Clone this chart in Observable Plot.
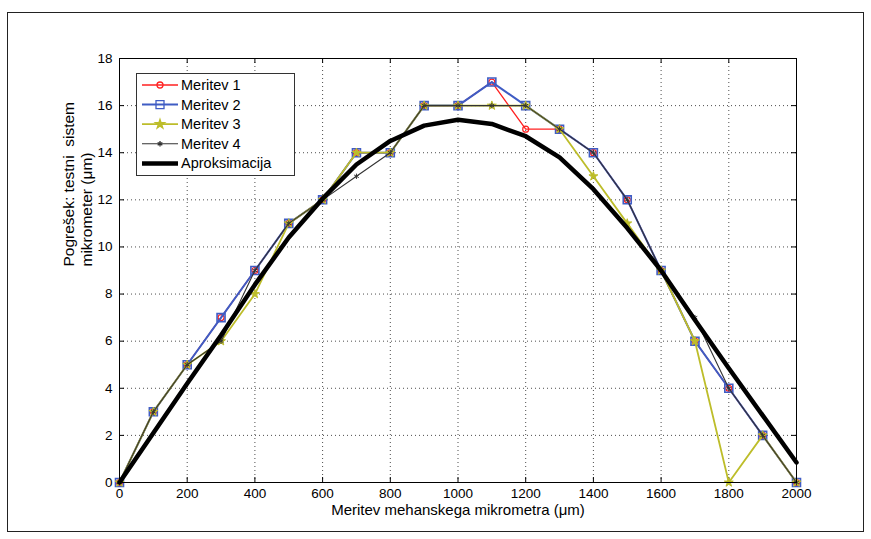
<!DOCTYPE html>
<html><head><meta charset="utf-8">
<script src="https://cdn.jsdelivr.net/npm/d3@7"></script>
<script src="https://cdn.jsdelivr.net/npm/@observablehq/plot@0.6"></script>
<style>
body{margin:0;background:#fff}
svg{display:block}
svg text{white-space:pre}
</style>
</head><body><div id="chart"></div>
<script>
// ---- data ----
const xValues   = [0,100,200,300,400,500,600,700,800,900,1000,1100,1200,1300,1400,1500,1600,1700,1800,1900,2000];
const meritev1  = [0,3,5,7,9,11,12,14,14,16,16,17,15,15,14,12,9,6,4,2,0];
const meritev2  = [0,3,5,7,9,11,12,14,14,16,16,17,16,15,14,12,9,6,4,2,0];
const meritev3  = [0,3,5,6,8,11,12,14,14,16,16,16,16,15,13,11,9,6,0,2,0];
const meritev4  = [0,3,5,6,9,11,12,13,14,16,16,16,16,15,14,12,9,7,4,2,0];
const aproksimacija = [0,2.1,4.2,6.25,8.4,10.4,12.05,13.5,14.5,15.15,15.4,15.22,14.7,13.8,12.45,10.8,9.0,6.9,4.85,2.85,0.85];
const seriesNames = ["Meritev 1","Meritev 2","Meritev 3","Meritev 4","Aproksimacija"];
const xTicks = [0,200,400,600,800,1000,1200,1400,1600,1800,2000];
const yTicks = [0,2,4,6,8,10,12,14,16,18];
const xLabel = "Meritev mehanskega mikrometra (μm)";
const yLabel = "Pogrešek: testni  sistem\nmikrometer (μm)";

const toRows = (vals) => xValues.map((x, i) => ({x, y: vals[i]}));
const d1 = toRows(meritev1), d2 = toRows(meritev2), d3r = toRows(meritev3), d4 = toRows(meritev4), da = toRows(aproksimacija);

const W = 871, H = 539;
const mL = 119, mR = 75, mT = 58, mB = 57;
const innerH = H - mT - mB, innerW = W - mL - mR;
const tk = 5;

const C = {red:"#ff2020", blue:"#3f5cc4", yellow:"#bdbd2a", gray:"#333333", black:"#000"};

const chart = Plot.plot({
  width: W, height: H,
  marginLeft: mL, marginRight: mR, marginTop: mT, marginBottom: mB,
  style: {fontFamily: "'Liberation Sans', Arial, sans-serif", background: "#fff", color: "#000"},
  x: {domain: [0, 2000]},
  y: {domain: [0, 18]},
  marks: [
    Plot.gridX(xTicks, {stroke: "#000", strokeOpacity: 0.7, strokeDasharray: "1,3"}),
    Plot.gridY(yTicks, {stroke: "#000", strokeOpacity: 0.7, strokeDasharray: "1,3"}),
    Plot.tickX(xTicks, {x: d => d, insetTop: innerH - tk, stroke: "#000"}),
    Plot.tickX(xTicks, {x: d => d, insetBottom: innerH - tk, stroke: "#000"}),
    Plot.tickY(yTicks, {y: d => d, insetRight: innerW - tk, stroke: "#000"}),
    Plot.tickY(yTicks, {y: d => d, insetLeft: innerW - tk, stroke: "#000"}),
    Plot.axisX(xTicks, {tickSize: 0, tickPadding: 6, fontSize: 13.5, label: null, tickFormat: d => String(d)}),
    Plot.axisY(yTicks, {tickSize: 0, tickPadding: 7, fontSize: 13.5, label: null, tickFormat: d => String(d)}),
    Plot.text([xLabel], {frameAnchor: "bottom", dy: 28, fontSize: 15, lineAnchor: "middle"}),
    Plot.text([yLabel], {frameAnchor: "left", dx: -42, dy: -4, rotate: -90, fontSize: 15.5, lineHeight: 1.18, lineAnchor: "middle"}),
    // series
    Plot.line(d1, {x: "x", y: "y", stroke: C.red, strokeWidth: 1.3}),
    Plot.dot(d1, {x: "x", y: "y", symbol: "circle", r: 3, stroke: C.red, fill: "none", strokeWidth: 1.2}),
    Plot.line(d2, {x: "x", y: "y", stroke: C.blue, strokeWidth: 2}),
    Plot.dot(d2, {x: "x", y: "y", symbol: "square", r: 4.5, stroke: C.blue, fill: "none", strokeWidth: 1.6}),
    Plot.line(d3r, {x: "x", y: "y", stroke: C.yellow, strokeWidth: 1.8}),
    Plot.dot(d3r, {x: "x", y: "y", symbol: "star", r: 2.8, stroke: C.yellow, fill: C.yellow, strokeWidth: 1}),
    Plot.line(d4, {x: "x", y: "y", stroke: C.gray, strokeWidth: 1.1}),
    Plot.dot(d4, {x: "x", y: "y", symbol: "asterisk", r: 2.5, stroke: C.gray, strokeWidth: 1}),
    Plot.line(da, {x: "x", y: "y", stroke: C.black, strokeWidth: 4.5, strokeLinejoin: "round"}),
    Plot.frame({stroke: "#000", strokeWidth: 1})
  ]
});

const svg = d3.select(chart);
// outer figure border
svg.insert("rect", ":first-child")
  .attr("x", 7.5).attr("y", 12.5).attr("width", 856).attr("height", 519)
  .attr("fill", "#fff").attr("stroke", "#222").attr("stroke-width", 1);

// legend
const lg = svg.append("g")
  .attr("font-family", "'Liberation Sans', Arial, sans-serif")
  .attr("font-size", 14.5).attr("text-anchor", "start");
lg.append("rect").attr("x", 136.5).attr("y", 73.5).attr("width", 158).attr("height", 102)
  .attr("fill", "#fff").attr("stroke", "#333").attr("stroke-width", 1);
const entryStyle = [
  {stroke: C.red, w: 1.3, sym: d3.symbolCircle, size: Math.PI*9, fill: "none"},
  {stroke: C.blue, w: 2, sym: d3.symbolSquare, size: 64, fill: "none"},
  {stroke: C.yellow, w: 1.8, sym: d3.symbolStar, size: 26, fill: C.yellow},
  {stroke: C.gray, w: 1.1, sym: d3.symbolAsterisk, size: 20, fill: "none"},
  {stroke: C.black, w: 4.5, sym: null}
];
seriesNames.forEach((name, i) => {
  const y = 85 + i * 19.6;
  const s = entryStyle[i];
  lg.append("line").attr("x1", 142).attr("x2", 178).attr("y1", y).attr("y2", y)
    .attr("stroke", s.stroke).attr("stroke-width", s.w);
  if (s.sym) {
    lg.append("path").attr("d", d3.symbol(s.sym, s.size)())
      .attr("transform", `translate(160,${y})`)
      .attr("stroke", s.stroke).attr("fill", s.fill).attr("stroke-width", 1.3);
  }
  lg.append("text").attr("x", 181).attr("y", y).attr("dy", "0.35em").attr("text-anchor", "start").text(name);
});

document.getElementById("chart").appendChild(chart);
</script>
</body></html>
